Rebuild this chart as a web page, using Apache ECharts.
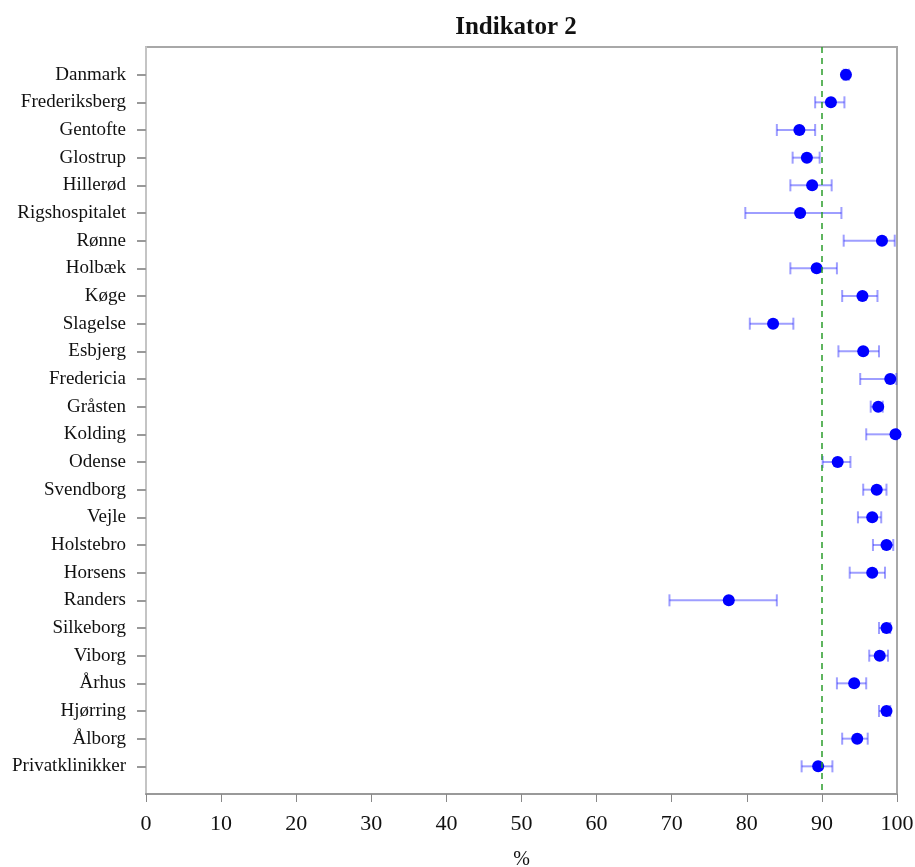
<!DOCTYPE html>
<html>
<head>
<meta charset="utf-8">
<script src="https://cdn.jsdelivr.net/npm/echarts@6/dist/echarts.min.js"></script>
<style>
  html, body { margin: 0; padding: 0; background: #fff; }
  #chart { width: 915px; height: 867px; }
</style>
</head>
<body>
<div id="chart"></div>
<script>
// data
const units = ['Danmark', 'Frederiksberg', 'Gentofte', 'Glostrup', 'Hillerød', 'Rigshospitalet',
    'Rønne', 'Holbæk', 'Køge', 'Slagelse', 'Esbjerg', 'Fredericia', 'Gråsten', 'Kolding',
    'Odense', 'Svendborg', 'Vejle', 'Holstebro', 'Horsens', 'Randers', 'Silkeborg', 'Viborg',
    'Århus', 'Hjørring', 'Ålborg', 'Privatklinikker']
const estimate = [93.2, 91.2, 87.0, 88.0, 88.7, 87.1, 98.0, 89.3, 95.4, 83.5, 95.5, 99.1, 97.5,
    99.8, 92.1, 97.3, 96.7, 98.6, 96.7, 77.6, 98.6, 97.7, 94.3, 98.6, 94.7, 89.5]
const lower = [92.9, 89.1, 84.0, 86.1, 85.8, 79.8, 92.9, 85.8, 92.7, 80.4, 92.2, 95.1, 96.5,
    95.9, 90.1, 95.5, 94.8, 96.8, 93.7, 69.7, 97.6, 96.3, 92.0, 97.6, 92.7, 87.3]
const upper = [93.6, 93.0, 89.1, 89.7, 91.3, 92.6, 99.7, 92.0, 97.4, 86.2, 97.6, 99.9, 98.1,
    100, 93.8, 98.6, 97.9, 99.5, 98.4, 84.0, 99.1, 98.8, 95.9, 99.1, 96.1, 91.4]
const target = 90
const xTicks = [0, 10, 20, 30, 40, 50, 60, 70, 80, 90, 100]

const chart = echarts.init(document.getElementById('chart'))

// blank slot at each end so rows sit a full step in from the frame
const yCats = [''].concat(units, [''])

const option = {
    animation: false,
    title: {
        text: 'Indikator 2',
        left: 511,
        top: 10,
        textAlign: 'center',
        textStyle: { fontFamily: 'Liberation Serif', fontWeight: 'bold', fontSize: 25, color: '#111' }
    },
    grid: {
        left: 146, right: 18, top: 47, bottom: 73,
        outerBoundsMode: 'none',
        containLabel: false,
        show: true, borderColor: '#a8a8a8', borderWidth: 2
    },
    xAxis: {
        type: 'value',
        min: xTicks[0],
        max: xTicks[xTicks.length - 1],
        interval: 10,
        name: '%',
        nameLocation: 'middle',
        nameGap: 56,
        nameTextStyle: { fontFamily: 'Liberation Serif', fontSize: 20, color: '#111' },
        axisLine: { show: true, lineStyle: { color: '#999', width: 2 } },
        axisTick: { show: true, length: 8, lineStyle: { color: '#888' } },
        axisLabel: { margin: 19, fontFamily: 'Liberation Serif', fontSize: 22, color: '#111' },
        splitLine: { show: false }
    },
    yAxis: {
        type: 'category',
        data: yCats,
        inverse: true,
        boundaryGap: false,
        axisLine: { show: true, lineStyle: { color: '#c4c4c4', width: 2 } },
        axisTick: {
            show: true, length: 9,
            interval: (i, v) => v !== '',
            lineStyle: { color: '#999', width: 2 }
        },
        axisLabel: {
            margin: 20, fontFamily: 'Liberation Serif', fontSize: 19, color: '#111',
            interval: 0
        },
        splitLine: { show: false }
    },
    series: [
        {
            type: 'custom',
            name: 'ci',
            data: units.map((u, i) => [lower[i], upper[i], u]),
            encode: { x: [0, 1], y: 2 },
            renderItem: (params, api) => {
                const a = api.coord([api.value(0), api.value(2)])
                const b = api.coord([api.value(1), api.value(2)])
                const h = 6
                const style = { stroke: 'rgba(40,40,255,0.45)', lineWidth: 2 }
                return {
                    type: 'group',
                    children: [
                        { type: 'line', shape: { x1: a[0], y1: a[1], x2: b[0], y2: b[1] }, style },
                        { type: 'line', shape: { x1: a[0], y1: a[1] - h, x2: a[0], y2: a[1] + h }, style },
                        { type: 'line', shape: { x1: b[0], y1: b[1] - h, x2: b[0], y2: b[1] + h }, style }
                    ]
                }
            },
            z: 2
        },
        {
            type: 'scatter',
            name: 'andel',
            data: units.map((u, i) => [estimate[i], u]),
            symbol: 'circle',
            symbolSize: 12,
            itemStyle: { color: '#0000ff', opacity: 1 },
            z: 3,
            markLine: {
                silent: true,
                symbol: 'none',
                label: { show: false },
                lineStyle: { color: '#2a9d2a', type: [6, 5], width: 1.5 },
                data: [{ xAxis: target }]
            }
        }
    ]
}

chart.setOption(option)
</script>
</body>
</html>
